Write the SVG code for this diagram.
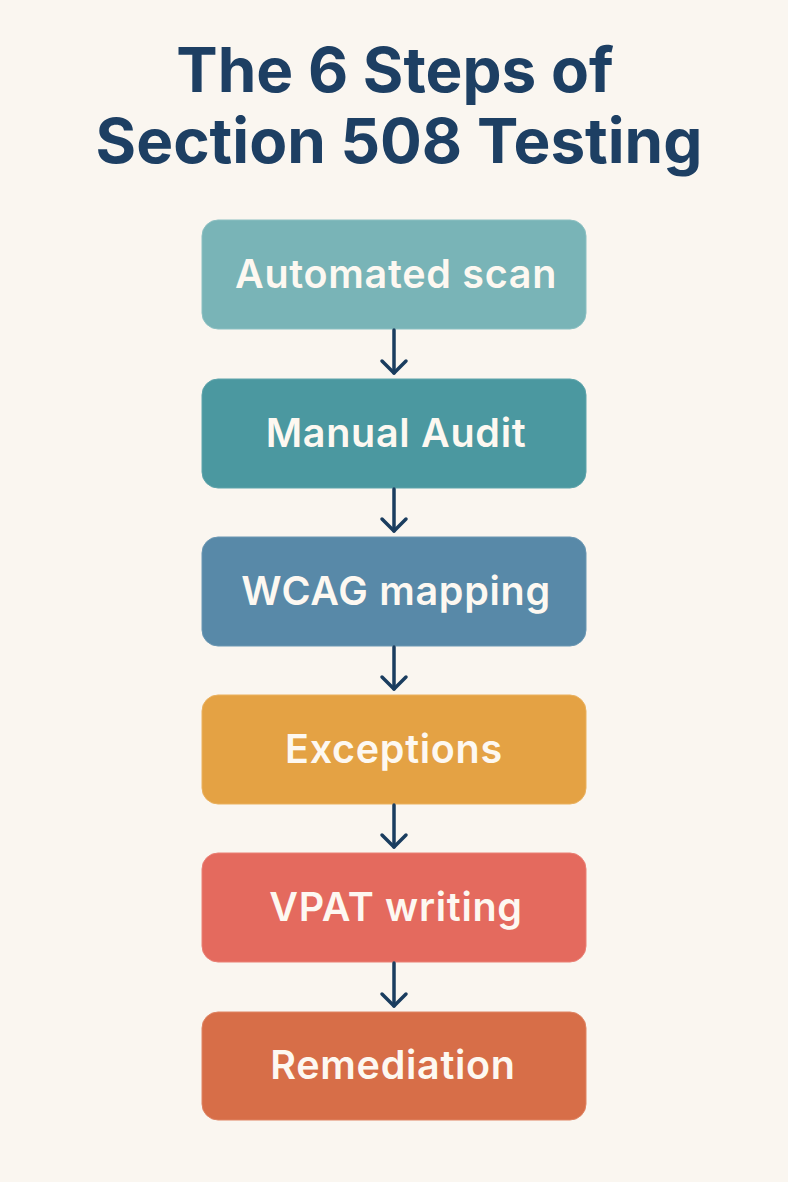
<svg xmlns="http://www.w3.org/2000/svg" width="788" height="1182" viewBox="0 0 788 1182">
<style>
.title{font-family:Inter,"Noto Sans","Liberation Sans",sans-serif;font-weight:700;font-size:62px;fill:#1d3f63;text-anchor:middle}
.box{stroke-width:1}
.lbl{font-family:Inter,"Noto Sans","Liberation Sans",sans-serif;font-weight:600;font-size:39.5px;letter-spacing:0.7px;fill:#fdf8f1;text-anchor:middle;dominant-baseline:central}
.conn line{stroke:#1a3d5f;stroke-width:3.5;stroke-linecap:round}
.conn polyline{fill:none;stroke:#1a3d5f;stroke-width:3.5;stroke-linecap:round;stroke-linejoin:round}
</style>
<rect width="788" height="1182" fill="#faf6f0"/>
<g id="title">
<text class="title" x="395" y="92">The 6 Steps of</text>
<text class="title" x="399" y="163">Section 508 Testing</text>
</g>
<g id="n1"><rect class="box" x="202" y="220" width="384" height="109" rx="16" fill="#79b4b7" stroke="#8cc0c2"/><text class="lbl" x="396" y="274">Automated scan</text></g>
<g id="n2"><rect class="box" x="202" y="379" width="384" height="109" rx="16" fill="#4b98a0" stroke="#5ea4ab"/><text class="lbl" x="396" y="433">Manual Audit</text></g>
<g id="n3"><rect class="box" x="202" y="537" width="384" height="109" rx="16" fill="#5889a8" stroke="#6a97b3"/><text class="lbl" x="396" y="591">WCAG mapping</text></g>
<g id="n4"><rect class="box" x="202" y="695" width="384" height="109" rx="16" fill="#e4a244" stroke="#eab15f"/><text class="lbl" x="394" y="749">Exceptions</text></g>
<g id="n5"><rect class="box" x="202" y="853" width="384" height="109" rx="16" fill="#e46a5e" stroke="#ea8075"/><text class="lbl" x="396" y="907">VPAT writing</text></g>
<g id="n6"><rect class="box" x="202" y="1012" width="384" height="108" rx="16" fill="#d76e48" stroke="#df8463"/><text class="lbl" x="393" y="1065">Remediation</text></g>
<g class="conn" id="connectors">
<line x1="394" y1="330" x2="394" y2="373"/><polyline points="382,361 394,373 406,361"/>
<line x1="394" y1="489" x2="394" y2="531"/><polyline points="382,519 394,531 406,519"/>
<line x1="394" y1="647" x2="394" y2="689"/><polyline points="382,677 394,689 406,677"/>
<line x1="394" y1="805" x2="394" y2="847"/><polyline points="382,835 394,847 406,835"/>
<line x1="394" y1="963" x2="394" y2="1006"/><polyline points="382,994 394,1006 406,994"/>
</g>
</svg>
